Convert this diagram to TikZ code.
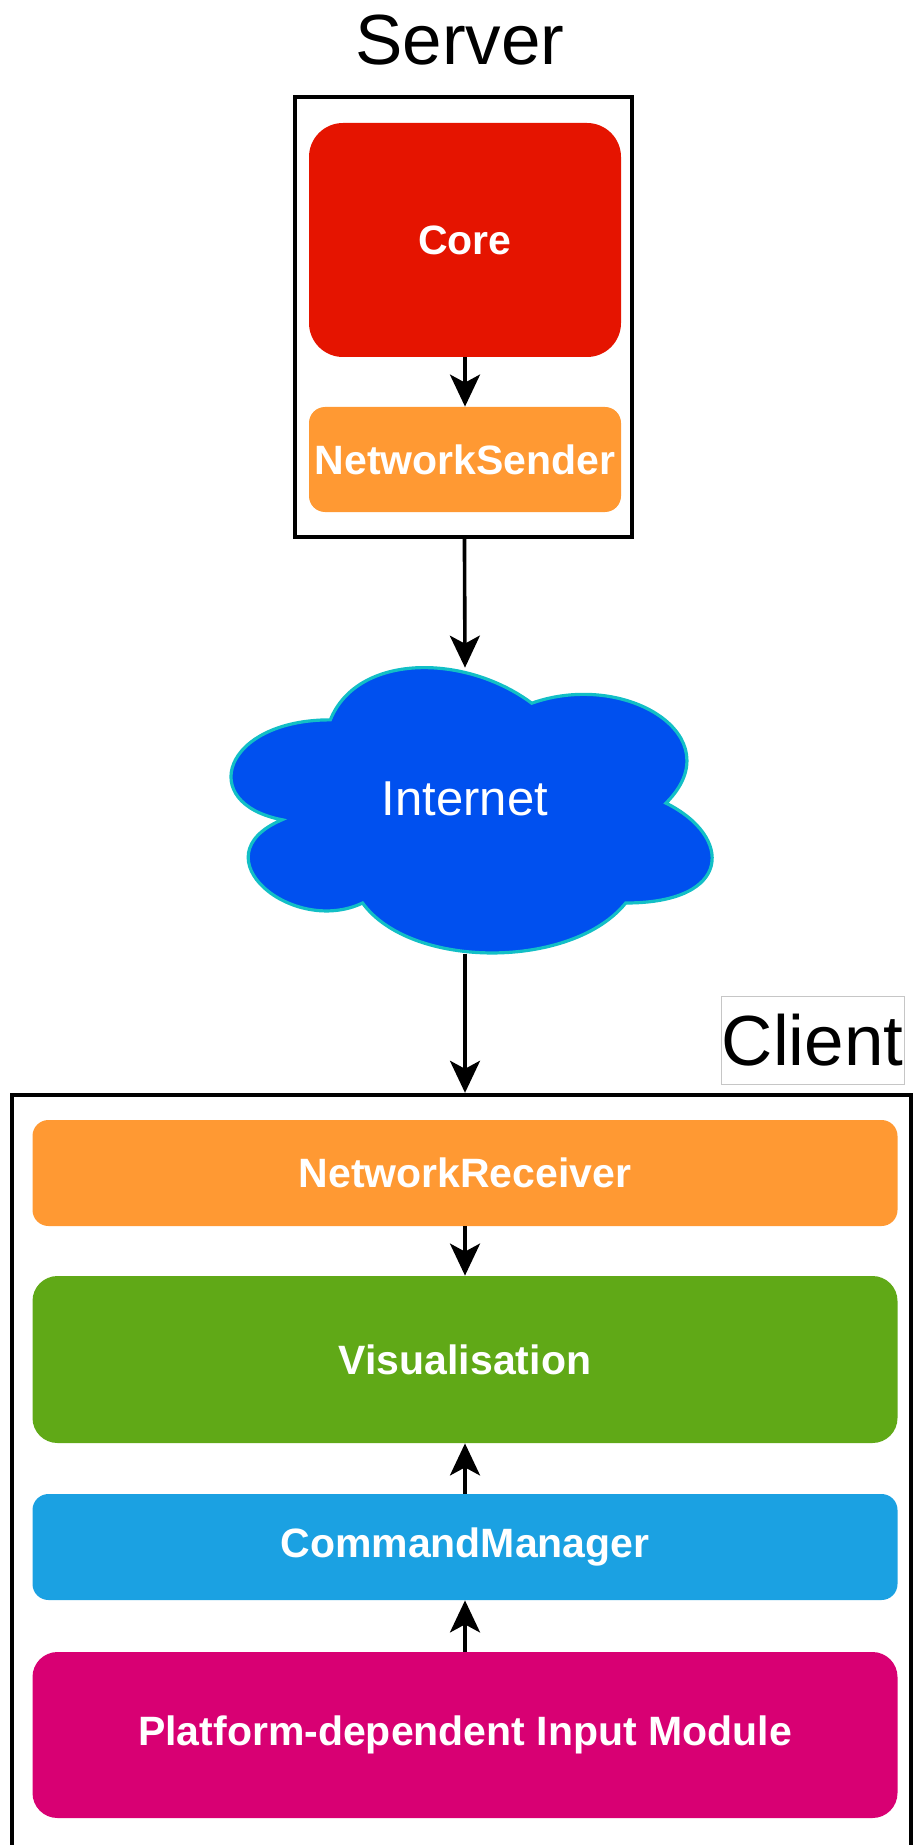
\documentclass[tikz,border=0pt]{standalone}
\usepackage{fontspec}
\setmainfont{Liberation Sans}
\usepackage{xcolor}
\usetikzlibrary{positioning,arrows.meta,calc,backgrounds}

\definecolor{coreRed}{HTML}{E51400}
\definecolor{netOrange}{HTML}{FF9933}
\definecolor{visGreen}{HTML}{60A917}
\definecolor{cmdBlue}{HTML}{1BA1E2}
\definecolor{inMagenta}{HTML}{D80073}
\definecolor{cloudBlue}{HTML}{0050EF}
\definecolor{cloudEdge}{HTML}{12BFC6}

\begin{document}
\begin{tikzpicture}[
  x=0.5pt, y=-0.5pt,
  >=Stealth,
  title/.style={font=\fontsize{35.5}{40}\selectfont, inner sep=0pt},
  container/.style={draw, line width=2.2pt, inner sep=0pt},
  block/.style={rounded corners=8pt, text=white, inner sep=0pt,
    font=\fontsize{20.5}{24}\selectfont\bfseries},
  bigblock/.style={block, rounded corners=12.5pt},
  msg/.style={-{Stealth[length=16pt, width=15pt, inset=4pt]}, line width=1.8pt},
]
\useasboundingbox (0,0) rectangle (914,1845);
\clip (0,0) rectangle (914,1845);

% Server
\node[title, anchor=base] (servertitle) at (460,65) {Server};
\node[container, minimum width=168.5pt, minimum height=220pt] (server) at (463.5,317) {};
\node[block, fill=coreRed, rounded corners=17pt, minimum width=156pt, minimum height=117pt]
  (core) at (465,240) {Core};
\node[block, fill=netOrange, minimum width=156pt, minimum height=52.5pt]
  (sender) at (465,459.5) {NetworkSender};
\draw[msg] (core) -- (sender);

% Internet
\node[text=white, inner sep=0pt, text depth=5pt, font=\fontsize{24.5}{28}\selectfont,
  minimum width=268.5pt, minimum height=166.5pt] (net) at (465,803.5) {Internet};
\begin{scope}[on background layer, shift={(net.north west)}, x=268.5pt, y=-166.5pt]
  \draw[fill=cloudBlue, draw=cloudEdge, line width=1.6pt]
    (0.25,0.25) .. controls (0.05,0.25) and (0,0.5) .. (0.16,0.55)
    .. controls (0,0.66) and (0.18,0.9) .. (0.31,0.8)
    .. controls (0.4,1) and (0.7,1) .. (0.8,0.8)
    .. controls (1,0.8) and (1,0.6) .. (0.875,0.5)
    .. controls (1,0.3) and (0.8,0.1) .. (0.625,0.2)
    .. controls (0.5,0.05) and (0.3,0.05) .. (0.25,0.25) -- cycle;
\end{scope}
\coordinate (netin) at ($(net.north)!0.093!(net.south)$);
\coordinate (netout) at ($(net.north)!0.95!(net.south)$);
\draw[msg] (server) -- (netin);

% Client
\node[title, draw=gray!45, line width=0.5pt, minimum width=91.5pt, minimum height=44pt]
  (clienttitle) at (812.5,1040) {Client};
\node[container, minimum width=449.5pt, minimum height=402.5pt] (client) at (461.5,1497.5) {};
\draw[msg] (netout) -- (netout |- client.north);

\node[block, fill=netOrange, minimum width=432.5pt, minimum height=53pt]
  (receiver) at (465,1173) {NetworkReceiver};
\node[bigblock, fill=visGreen, minimum width=432.5pt, minimum height=83.5pt]
  (vis) at (465,1359.5) {Visualisation};
\node[block, fill=cmdBlue, minimum width=432.5pt, minimum height=53pt]
  (cmd) at (465,1547) {CommandManager};
\node[bigblock, fill=inMagenta, minimum width=432.5pt, minimum height=83pt]
  (input) at (465,1735) {Platform-dependent Input Module};

\draw[msg] (receiver) -- (vis);
\draw[msg] (cmd) -- (vis);
\draw[msg] (input) -- (cmd);

\end{tikzpicture}
\end{document}
